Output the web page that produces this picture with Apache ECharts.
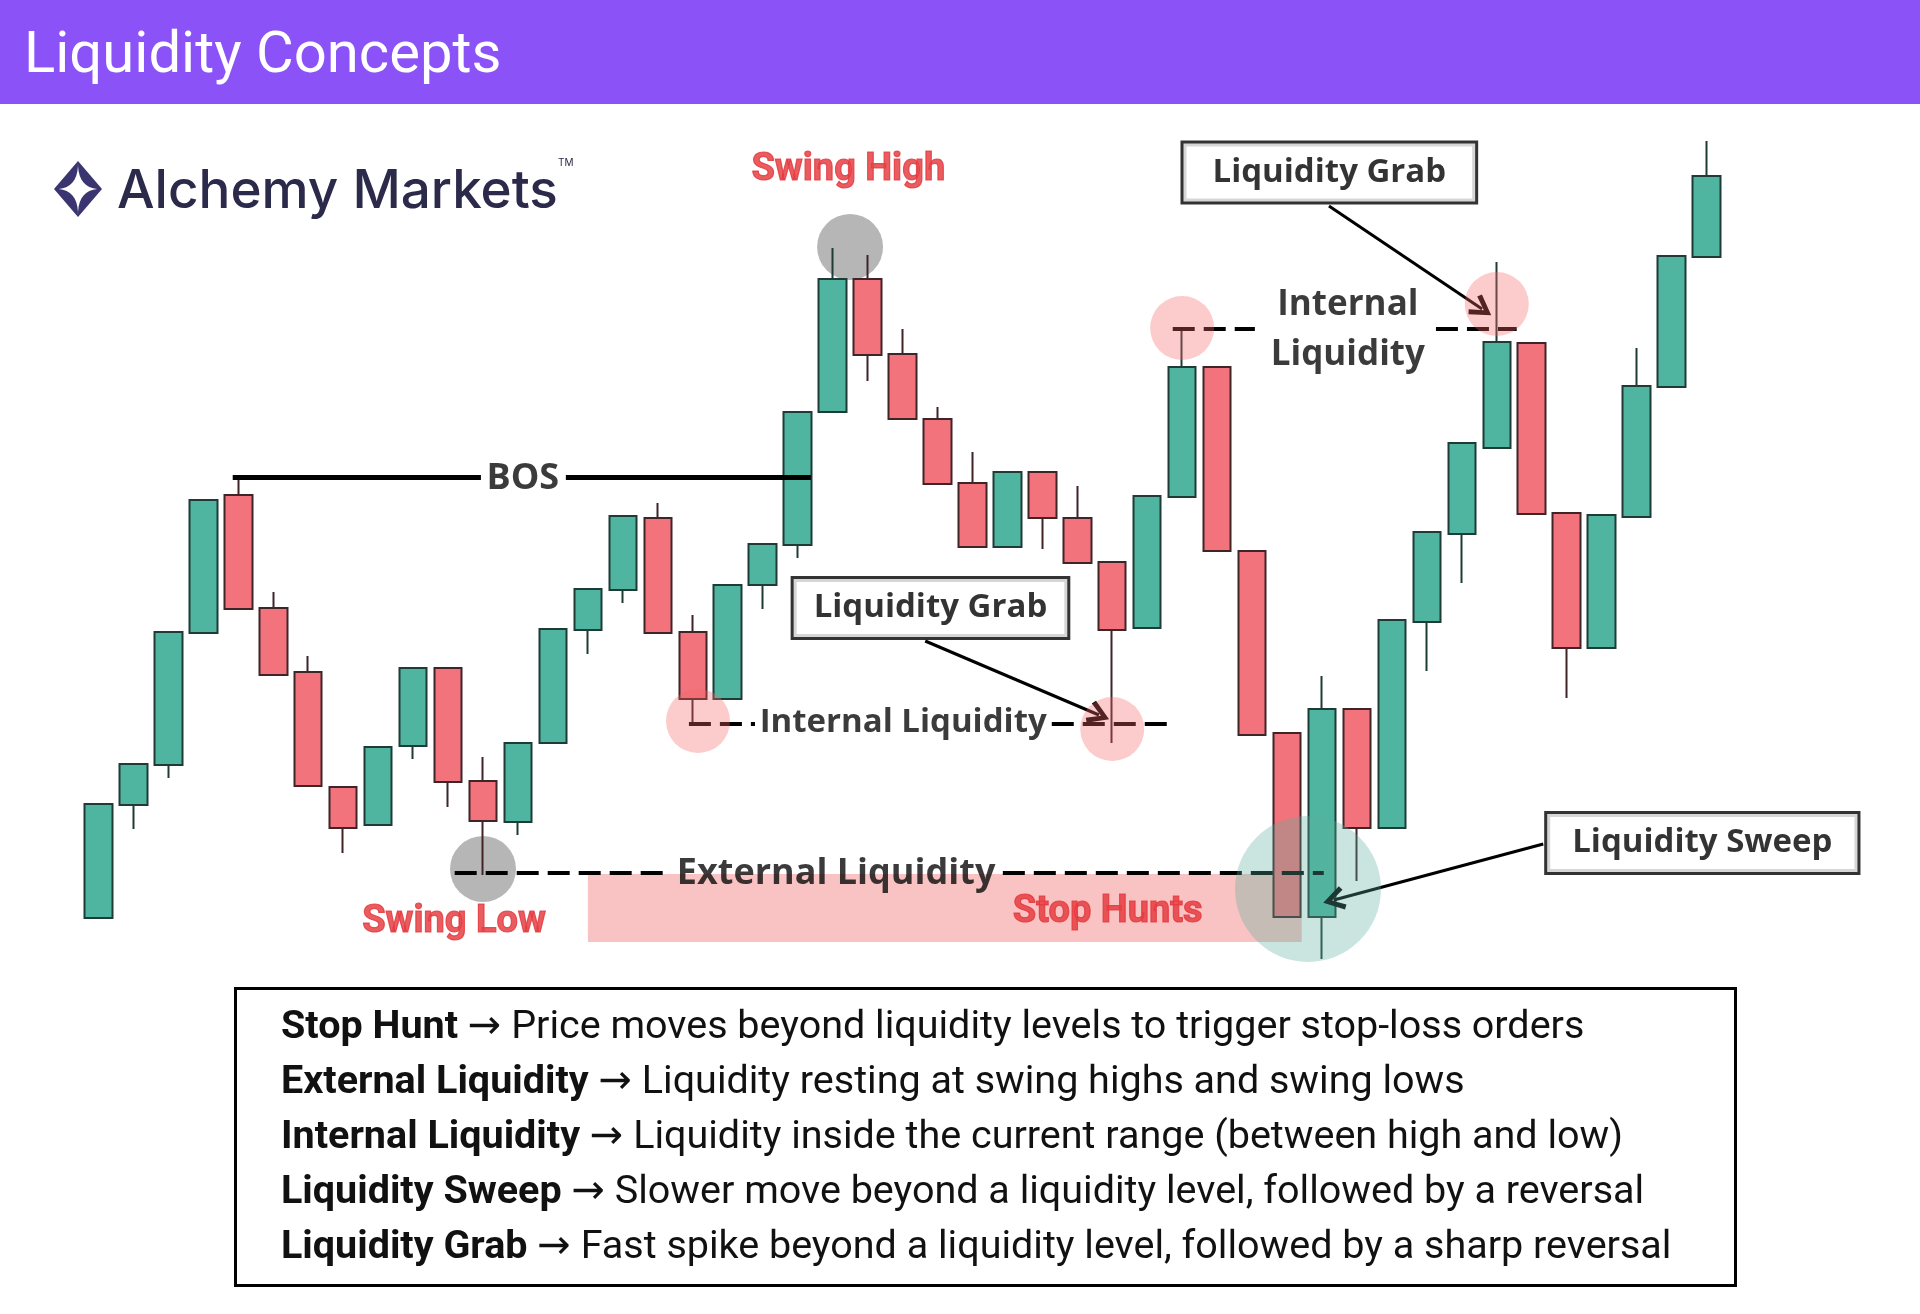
<!DOCTYPE html>
<html>
<head>
<meta charset="utf-8">
<script src="https://cdn.jsdelivr.net/npm/echarts@6/dist/echarts.min.js"></script>
<style>
html,body{margin:0;padding:0;background:#fff;}
#chart{width:1920px;height:1314px;}
</style>
</head>
<body>
<div id="chart"></div>
<script>
// ---- Data (price units on a hidden axis, 47 candles) ----
const categories = ['C1','C2','C3','C4','C5','C6','C7','C8','C9','C10','C11','C12','C13','C14','C15','C16','C17','C18','C19','C20','C21','C22','C23','C24','C25','C26','C27','C28','C29','C30','C31','C32','C33','C34','C35','C36','C37','C38','C39','C40','C41','C42','C43','C44','C45','C46','C47'];
const opens  = [8.2,19.5,23.5,36.7,50.5,39.2,32.8,21.3,17.5,25.4,33.2,21.9,17.8,25.7,37.0,41.0,48.2,36.8,30.1,41.5,45.5,58.8,72.1,64.6,58.1,51.7,45.3,52.8,48.2,43.8,37.2,50.3,63.3,44.9,26.7,8.3,29.1,17.2,37.8,46.6,55.2,65.7,48.7,35.2,48.3,61.3,74.3];
const closes = [19.6,23.6,36.8,50.0,39.1,32.5,21.4,17.2,25.3,33.2,21.8,17.9,25.7,37.1,41.1,48.4,36.7,30.1,41.5,45.6,58.8,72.1,64.5,58.1,51.6,45.3,52.8,48.2,43.7,37.0,50.4,63.3,44.9,26.5,8.3,29.1,17.2,38.0,46.8,55.7,65.8,48.6,35.2,48.5,61.4,74.4,82.4];
const lows   = [8.2,17.1,22.2,36.7,39.1,32.5,21.4,14.7,17.5,24.1,19.3,12.5,16.5,25.7,34.6,39.7,36.7,27.7,30.1,39.1,44.2,58.8,61.9,58.1,51.6,45.3,45.3,45.1,43.7,25.7,37.2,50.3,44.9,26.5,8.3,4.1,11.9,17.2,32.9,41.7,55.2,48.6,30.2,35.2,48.3,61.3,74.3];
const highs  = [19.6,23.6,36.8,50.0,52.0,40.8,34.4,21.3,25.3,33.2,33.2,24.3,25.7,37.1,41.1,48.4,49.7,38.5,41.5,45.6,58.8,75.2,74.5,67.1,59.3,54.8,52.8,52.8,51.4,43.8,50.4,67.2,63.3,44.9,26.7,32.4,29.1,38.0,46.8,55.7,73.8,65.7,48.7,48.5,65.2,74.4,85.9];

// ---- Annotation anchors (candle index, price) ----
const grayCircles = [[21.5, 75.3, 66], [11, 13.1, 66]];
const pinkCircles = [[17.15, 27.9, 64], [29, 27.1, 64], [31, 67.2, 64], [40, 69.6, 64]];
const tealCircles = [[34.6, 11.1, 146]];
const stopHuntZone = [[14.0, 12.6], [34.42, 5.8]];
const solidLines = [[[3.84, 52.25], [10.94, 52.25]], [[13.37, 52.25], [20.38, 52.25]]];
const dashedLines = [
  [[10.19, 12.7], [16.29, 12.7]], [[25.87, 12.7], [35.05, 12.7]],
  [[16.89, 27.65], [18.78, 27.65]], [[27.27, 27.65], [30.7, 27.65]],
  [[30.73, 67.1], [33.08, 67.1]], [[38.26, 67.1], [40.57, 67.1]]
];
const arrows = [
  [[23.65, 35.9], [28.62, 28.5]],
  [[35.2, 79.4], [39.58, 69.1]],
  [[41.33, 15.6], [35.34, 10.0]]
];
const boxLabels = [
  {text: 'Liquidity Grab', pos: [23.8, 39.2], pad: [9, 20]},
  {text: 'Liquidity Grab', pos: [35.21, 82.75], pad: [9, 29]},
  {text: 'Liquidity Sweep', pos: [45.88, 15.7], pad: [9, 25]}
];
const plainLabels = [
  {text: 'BOS', pos: [12.14, 52.1], size: 36, color: '#0a0a0a', font: 'Open Sans', w: 700},
  {text: 'Internal Liquidity', pos: [23.02, 27.7], size: 33, color: '#0a0a0a', font: 'Open Sans', w: 700},
  {text: 'External Liquidity', pos: [21.1, 12.6], size: 36, color: '#0a0a0a', font: 'Open Sans', w: 700},
  {text: 'Internal\nLiquidity', pos: [35.74, 67.0], size: 35, color: '#0a0a0a', font: 'Open Sans', w: 700, lh: 50},
  {text: 'Swing High', pos: [21.45, 83.0], size: 38, color: '#e3353a', font: 'Roboto', w: 700, stroke: 1.2},
  {text: 'Swing Low', pos: [10.17, 7.8], size: 38, color: '#e3353a', font: 'Roboto', w: 700, stroke: 1.2},
  {text: 'Stop Hunts', pos: [28.87, 8.8], size: 38, color: '#e3353a', font: 'Roboto', w: 700, stroke: 1.2}
];
const legendLines = [
  ['Stop Hunt', 'Price moves beyond liquidity levels to trigger stop-loss orders'],
  ['External Liquidity', 'Liquidity resting at swing highs and swing lows'],
  ['Internal Liquidity', 'Liquidity inside the current range (between high and low)'],
  ['Liquidity Sweep', 'Slower move beyond a liquidity level, followed by a reversal'],
  ['Liquidity Grab', 'Fast spike beyond a liquidity level, followed by a sharp reversal']
];

// logo sparkle outline (quadratic curves sampled)
function sparkle(cx, cy, rx, ry, k) {
  const tips = [[cx, cy - ry], [cx + rx, cy], [cx, cy + ry], [cx - rx, cy]];
  const pts = [];
  for (let s = 0; s < 4; s++) {
    const a = tips[s], b = tips[(s + 1) % 4];
    const c = [cx + (a[0] + b[0] - 2 * cx) * k, cy + (a[1] + b[1] - 2 * cy) * k];
    for (let j = 0; j < 10; j++) {
      const t = j / 10;
      pts.push([(1 - t) * (1 - t) * a[0] + 2 * t * (1 - t) * c[0] + t * t * b[0],
                (1 - t) * (1 - t) * a[1] + 2 * t * (1 - t) * c[1] + t * t * b[1]]);
    }
  }
  return pts;
}

const chart = echarts.init(document.getElementById('chart'), null, {renderer: 'canvas'});

const candleData = categories.map((c, i) => [opens[i], closes[i], lows[i], highs[i]]);

const legendGraphics = legendLines.map((l, i) => ({
  type: 'text', left: 281, top: 1008 + i * 55, z: 100,
  style: {
    text: '{b|' + l[0] + '\u00a0}{a|\u2192}{n|\u00a0' + l[1] + '}',
    rich: {
      b: {fontFamily: 'Roboto', fontWeight: 700, fontSize: 39.5, fill: '#111'},
      a: {fontFamily: 'DejaVu Sans', fontWeight: 400, fontSize: 40, fill: '#111'},
      n: {fontFamily: 'Roboto', fontWeight: 400, fontSize: 39.5, fill: '#111'}
    }
  }
}));

const option = {
  animation: false,
  backgroundColor: '#ffffff',
  grid: {left: 81, width: 1643, top: 100, height: 900},
  xAxis: [
    {type: 'category', data: categories, show: false, boundaryGap: true},
    {type: 'value', min: -0.5, max: 46.5, show: false}
  ],
  yAxis: {type: 'value', min: 0, max: 90, show: false},
  graphic: [
    {type: 'rect', left: 0, top: 0, shape: {width: 1920, height: 104}, style: {fill: '#8b52f7'}, z: 100},
    {type: 'text', left: 24, top: 28, z: 101, style: {text: 'Liquidity Concepts', fill: '#fff', font: '400 58px Roboto'}},
    {type: 'polygon', z: 101, shape: {points: [[78, 161], [102, 189], [78, 217], [54, 189]]}, style: {fill: '#3a3570'}},
    {type: 'polygon', z: 102, shape: {points: sparkle(78, 189, 24, 28, -0.04)}, style: {fill: '#fff'}},
    {type: 'text', left: 117, top: 166, z: 101, style: {text: 'Alchemy Markets', fill: '#2c2a4a', font: '500 53px Inter'}},
    {type: 'text', left: 558, top: 158, z: 101, style: {text: 'TM', fill: '#2c2a4a', font: '400 10px Inter'}},
    {type: 'rect', left: 234, top: 987, shape: {width: 1500, height: 297}, style: {fill: '#fff', stroke: '#000', lineWidth: 3}, z: 99}
  ].concat(legendGraphics),
  series: [
    {
      name: 'zone', type: 'scatter', xAxisIndex: 1, z: 1, silent: true,
      symbolSize: 1, itemStyle: {color: 'transparent'}, data: [[0, 0]],
      markArea: {silent: true, z: 1, itemStyle: {color: '#fac3c3'},
        data: [[{coord: stopHuntZone[0]}, {coord: stopHuntZone[1]}]]}
    },
    {
      name: 'gray', type: 'scatter', xAxisIndex: 1, z: 1, silent: true,
      symbolSize: d => d[2], itemStyle: {color: '#b6b6b6', opacity: 1},
      data: grayCircles
    },
    {
      name: 'price', type: 'candlestick', xAxisIndex: 0, z: 2, barWidth: 28,
      itemStyle: {color: '#4fb5a0', color0: '#f2737c', borderColor: '#1f3b36', borderColor0: '#3f2428', borderWidth: 2},
      data: candleData
    },
    {
      name: 'lines', type: 'scatter', xAxisIndex: 1, z: 3, silent: true,
      symbolSize: 1, itemStyle: {color: 'transparent'}, data: [[0, 0]],
      markLine: {
        silent: true, symbol: 'none', animation: false, z: 5,
        label: {show: false},
        data: solidLines.map(s => [{coord: s[0], lineStyle: {color: '#000', width: 5, type: 'solid'}}, {coord: s[1]}])
          .concat(dashedLines.map(s => [{coord: s[0], lineStyle: {color: '#000', width: 4, type: [22, 9]}}, {coord: s[1]}]))
      }
    },
    {
      name: 'arrows', type: 'scatter', xAxisIndex: 1, z: 3, silent: true,
      symbolSize: 1, itemStyle: {color: 'transparent'}, data: [[0, 0]],
      markLine: {
        silent: true, animation: false, z: 5,
        symbol: ['none', 'path://M0,10 L5,0 L10,10 L8.2,11.4 L5,4.6 L1.8,11.4 Z'],
        symbolSize: [24, 22],
        label: {show: false},
        lineStyle: {color: '#000', width: 3, type: 'solid'},
        data: arrows.map(a => [{coord: a[0]}, {coord: a[1]}])
      }
    },
    {
      name: 'pink', type: 'scatter', xAxisIndex: 1, z: 6, silent: true,
      symbolSize: d => d[2], itemStyle: {color: 'rgba(245,100,100,0.42)'},
      data: pinkCircles
    },
    {
      name: 'teal', type: 'scatter', xAxisIndex: 1, z: 6, silent: true,
      symbolSize: d => d[2], itemStyle: {color: 'rgba(90,175,155,0.4)'},
      data: tealCircles
    },
    {
      name: 'boxes', type: 'scatter', xAxisIndex: 1, z: 7, silent: true,
      symbolSize: 1, itemStyle: {color: 'transparent'},
      data: boxLabels.map(b => ({
        value: b.pos,
        label: {show: true, position: 'inside', formatter: b.text, fontFamily: 'Open Sans', fontWeight: 700,
          fontSize: 33, lineHeight: 40, color: '#000', backgroundColor: '#fff', borderColor: '#000',
          borderWidth: 3, padding: b.pad}
      }))
    },
    {
      name: 'texts', type: 'scatter', xAxisIndex: 1, z: 7, silent: true,
      symbolSize: 1, itemStyle: {color: 'transparent'},
      data: plainLabels.map(t => ({
        value: t.pos,
        label: {show: true, position: 'inside', formatter: t.text, fontFamily: t.font, fontWeight: t.w,
          fontSize: t.size, lineHeight: t.lh || Math.round(t.size * 1.2), color: t.color,
          textBorderColor: t.stroke ? t.color : 'transparent', textBorderWidth: t.stroke || 0}
      }))
    }
  ]
};
chart.setOption(option);
</script>
</body>
</html>
